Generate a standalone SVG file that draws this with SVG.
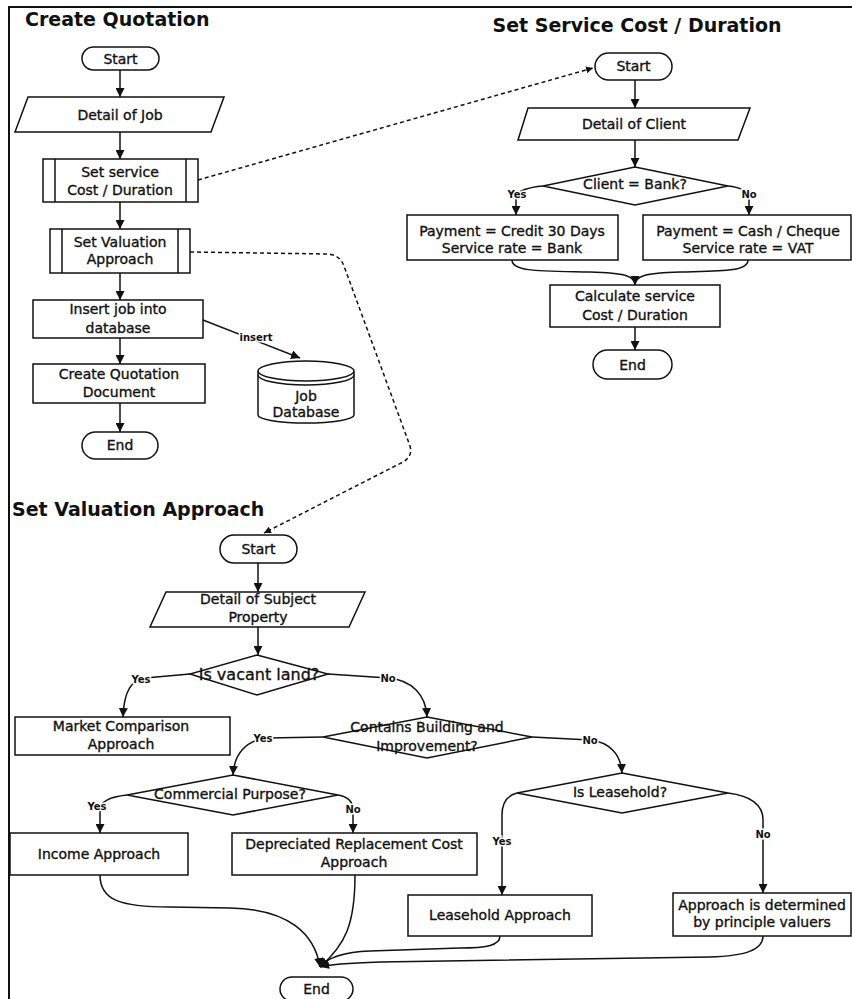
<svg xmlns="http://www.w3.org/2000/svg" width="852" height="999" viewBox="0 0 852 999">
<style>
.s{fill:#fff;stroke:#111;stroke-width:1.5}
.c{fill:none;stroke:#111;stroke-width:1.5}
.d{fill:none;stroke:#111;stroke-width:1.5;stroke-dasharray:4 3}
.t{font-family:"DejaVu Sans","Liberation Sans",sans-serif;font-size:14px;text-anchor:middle;fill:#111;stroke:#111;stroke-width:0.35}
.ttl{font-family:"DejaVu Sans","Liberation Sans",sans-serif;font-size:19px;font-weight:bold;fill:#111}
.l{font-family:"DejaVu Sans","Liberation Sans",sans-serif;font-size:10px;font-weight:bold;text-anchor:middle;fill:#111;stroke:#fff;stroke-width:3;paint-order:stroke}
</style>
<defs>
<marker id="ah" viewBox="0 0 10 10" refX="10" refY="5" markerWidth="9" markerHeight="9" markerUnits="userSpaceOnUse" orient="auto"><path d="M0,0 L10,5 L0,10 z" fill="#111"/></marker>
<marker id="ahs" viewBox="0 0 10 10" refX="10" refY="5" markerWidth="7" markerHeight="7" markerUnits="userSpaceOnUse" orient="auto"><path d="M0,0 L10,5 L0,10 z" fill="#111"/></marker>
</defs>
<rect width="852" height="999" fill="#fff"/>
<path d="M9,999 L9,7 L852,7" fill="none" stroke="#111" stroke-width="2"/>

<text class="ttl" x="25" y="26">Create Quotation</text>
<text class="ttl" x="637" y="32" text-anchor="middle">Set Service Cost / Duration</text>
<text class="ttl" x="12" y="516">Set Valuation Approach</text>

<g id="connectors">
<line class="c" x1="120" y1="70" x2="120" y2="97" marker-end="url(#ah)"/>
<line class="c" x1="120" y1="132" x2="120" y2="159" marker-end="url(#ah)"/>
<line class="c" x1="120" y1="202" x2="120" y2="229" marker-end="url(#ah)"/>
<line class="c" x1="120" y1="273" x2="120" y2="300" marker-end="url(#ah)"/>
<line class="c" x1="120" y1="338" x2="120" y2="364" marker-end="url(#ah)"/>
<line class="c" x1="120" y1="403" x2="120" y2="432" marker-end="url(#ah)"/>
<path class="c" d="M203,320 L300,358" marker-end="url(#ah)"/>
<text class="l" x="256" y="341">insert</text>
<path class="d" d="M198,180 L593,68" marker-end="url(#ahs)"/>
<path class="d" d="M190,252 L328,254 Q340,255 344,266 L410,446 Q413,456 403,462 L264,533" marker-end="url(#ahs)"/>

<line class="c" x1="635" y1="80" x2="635" y2="108" marker-end="url(#ah)"/>
<line class="c" x1="635" y1="140" x2="635" y2="167" marker-end="url(#ah)"/>
<path class="c" d="M543,186 Q520,188 516,196 L516,215" marker-end="url(#ah)"/>
<text class="l" x="517" y="198">Yes</text>
<path class="c" d="M728,186 Q746,188 749,196 L749,215" marker-end="url(#ah)"/>
<text class="l" x="749" y="198">No</text>
<path class="c" d="M512,260 C512,272 540,271 590,272 C625,273 635,276 635,285" marker-end="url(#ah)"/>
<path class="c" d="M748,260 C748,272 720,271 680,272 C645,273 635,276 635,285"/>
<line class="c" x1="635" y1="327" x2="635" y2="350" marker-end="url(#ah)"/>

<line class="c" x1="258" y1="563" x2="258" y2="592" marker-end="url(#ah)"/>
<line class="c" x1="258" y1="627" x2="258" y2="655" marker-end="url(#ah)"/>
<path class="c" d="M190,674 L145,678 C132,680 124,690 123,717" marker-end="url(#ah)"/>
<text class="l" x="141" y="683">Yes</text>
<path class="c" d="M328,674 L388,678 C412,680 426,695 427,717" marker-end="url(#ah)"/>
<text class="l" x="388" y="682">No</text>
<path class="c" d="M323,737 L268,738 C245,740 234,755 233,775" marker-end="url(#ah)"/>
<text class="l" x="263" y="742">Yes</text>
<path class="c" d="M532,737 L590,740 C610,742 621,755 622,773" marker-end="url(#ah)"/>
<text class="l" x="590" y="744">No</text>
<path class="c" d="M127,795 C108,797 100,803 100,810 L100,833" marker-end="url(#ah)"/>
<text class="l" x="97" y="810">Yes</text>
<path class="c" d="M338,795 C350,797 353,803 353,810 L353,833" marker-end="url(#ah)"/>
<text class="l" x="353" y="813">No</text>
<path class="c" d="M517,793 C505,796 502,805 502,815 L502,895" marker-end="url(#ah)"/>
<text class="l" x="502" y="845">Yes</text>
<path class="c" d="M728,793 C752,796 763,805 763,820 L763,893" marker-end="url(#ah)"/>
<text class="l" x="763" y="838">No</text>
<path class="c" d="M100,875 C100,900 120,907 170,907 L230,908 C290,909 315,935 320,967" marker-end="url(#ah)"/>
<path class="c" d="M355,875 C355,925 345,945 320,967" marker-end="url(#ah)"/>
<path class="c" d="M500,936 C500,946 485,948 460,948 L370,951 C345,952 328,957 320,967" marker-end="url(#ah)"/>
<path class="c" d="M763,936 C763,950 745,956 710,957 L380,962 C350,963 330,964 320,967" marker-end="url(#ah)"/>
</g>

<g id="cq-start"><rect class="s" x="82" y="47" width="77" height="23" rx="11.5"/><text class="t" x="120.5" y="63.5">Start</text></g>
<g id="cq-detail"><polygon class="s" points="28,97 224,97 211,132 15,132"/><text class="t" x="120" y="120">Detail of Job</text></g>
<g id="cq-service"><rect class="s" x="43" y="159" width="155" height="43"/><line class="c" x1="55" y1="159" x2="55" y2="202"/><line class="c" x1="186" y1="159" x2="186" y2="202"/><text class="t" x="120" y="177">Set service</text><text class="t" x="120" y="195">Cost / Duration</text></g>
<g id="cq-valuation"><rect class="s" x="50" y="229" width="140" height="44"/><line class="c" x1="62" y1="229" x2="62" y2="273"/><line class="c" x1="178" y1="229" x2="178" y2="273"/><text class="t" x="120" y="247">Set Valuation</text><text class="t" x="120" y="264">Approach</text></g>
<g id="cq-insert"><rect class="s" x="33" y="300" width="170" height="38"/><text class="t" x="118" y="314">Insert job into</text><text class="t" x="118" y="333">database</text></g>
<g id="cq-document"><rect class="s" x="33" y="364" width="172" height="39"/><text class="t" x="119" y="379">Create Quotation</text><text class="t" x="119" y="397">Document</text></g>
<g id="cq-end"><rect class="s" x="82" y="432" width="76" height="27" rx="13.5"/><text class="t" x="120" y="450">End</text></g>
<g id="job-db"><path class="s" d="M258,371 L258,415 A48,8 0 0 0 354,415 L354,371 A48,10 0 0 0 258,371 A48,10 0 0 0 354,371"/><path class="c" d="M258,375 A48,10 0 0 0 354,375"/><text class="t" x="306" y="401">Job</text><text class="t" x="306" y="417">Database</text></g>

<g id="ss-start"><rect class="s" x="595" y="53" width="77" height="27" rx="13.5"/><text class="t" x="633.5" y="71">Start</text></g>
<g id="ss-detail"><polygon class="s" points="528,108 750,108 738,140 518,140"/><text class="t" x="634" y="129">Detail of Client</text></g>
<g id="ss-decision"><polygon class="s" points="635,167 728,186 635,205 543,186"/><text class="t" x="635" y="189">Client = Bank?</text></g>
<g id="ss-bank"><rect class="s" x="407" y="215" width="211" height="45"/><text class="t" x="512" y="236">Payment = Credit 30 Days</text><text class="t" x="512" y="253">Service rate = Bank</text></g>
<g id="ss-vat"><rect class="s" x="643" y="215" width="208" height="45"/><text class="t" x="748" y="236">Payment = Cash / Cheque</text><text class="t" x="748" y="253">Service rate = VAT</text></g>
<g id="ss-calc"><rect class="s" x="550" y="285" width="170" height="42"/><text class="t" x="635" y="301">Calculate service</text><text class="t" x="635" y="320">Cost / Duration</text></g>
<g id="ss-end"><rect class="s" x="593" y="350" width="79" height="29" rx="14.5"/><text class="t" x="632.5" y="370">End</text></g>

<g id="va-start"><rect class="s" x="220" y="535" width="77" height="28" rx="14"/><text class="t" x="258.5" y="554">Start</text></g>
<g id="va-detail"><polygon class="s" points="166,592 365,592 349,627 150,627"/><text class="t" x="258" y="604">Detail of Subject</text><text class="t" x="258" y="622">Property</text></g>
<g id="va-vacant"><polygon class="s" points="257,655 328,674 257,695 190,674"/><text class="t" x="259" y="680" style="font-size:16px">Is vacant land?</text></g>
<g id="va-market"><rect class="s" x="15" y="717" width="215" height="38"/><text class="t" x="121" y="731">Market Comparison</text><text class="t" x="121" y="749">Approach</text></g>
<g id="va-contains"><polygon class="s" points="427,717 532,737 427,758 323,737"/><text class="t" x="427" y="732">Contains Building and</text><text class="t" x="427" y="751">Improvement?</text></g>
<g id="va-commercial"><polygon class="s" points="233,775 338,795 233,815 127,795"/><text class="t" x="230" y="799">Commercial Purpose?</text></g>
<g id="va-leasehold-q"><polygon class="s" points="622,773 728,793 622,813 517,793"/><text class="t" x="620" y="797">Is Leasehold?</text></g>
<g id="va-income"><rect class="s" x="10" y="833" width="178" height="42"/><text class="t" x="99" y="859">Income Approach</text></g>
<g id="va-drc"><rect class="s" x="232" y="833" width="245" height="42"/><text class="t" x="354" y="849">Depreciated Replacement Cost</text><text class="t" x="354" y="867">Approach</text></g>
<g id="va-leasehold"><rect class="s" x="408" y="895" width="184" height="41"/><text class="t" x="500" y="920">Leasehold Approach</text></g>
<g id="va-principle"><rect class="s" x="673" y="893" width="178" height="43"/><text class="t" x="762" y="910">Approach is determined</text><text class="t" x="762" y="927">by principle valuers</text></g>
<g id="va-end"><rect class="s" x="280" y="977" width="73" height="24" rx="12"/><text class="t" x="316.5" y="994">End</text></g>
</svg>
